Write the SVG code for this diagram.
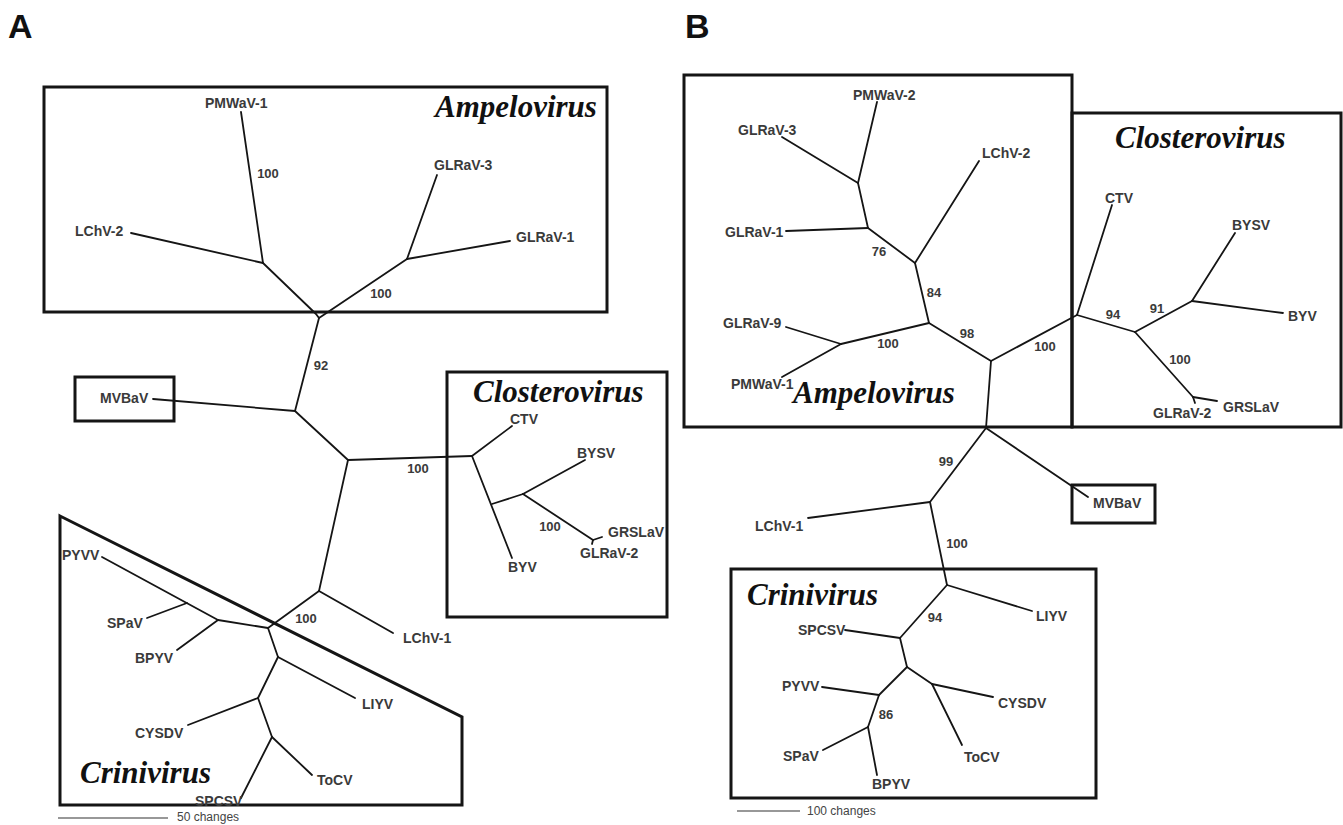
<svg xmlns="http://www.w3.org/2000/svg" width="1343" height="825" viewBox="0 0 1343 825">
<style>
.br{stroke:#151515;stroke-width:1.8;fill:none;stroke-linecap:round;stroke-linejoin:round}
.box{stroke:#151515;stroke-width:3;fill:none}
.lab{font-family:"Liberation Sans",Arial,sans-serif;font-size:14px;font-weight:bold;fill:#3a3a3a}
.bs{font-family:"Liberation Sans",Arial,sans-serif;font-size:13px;font-weight:bold;fill:#3a3a3a;text-anchor:middle}
.clade{font-family:"Liberation Serif","Times New Roman",serif;font-style:italic;font-weight:bold;font-size:31px;fill:#111}
.panel{font-family:"Liberation Sans",Arial,sans-serif;font-weight:bold;font-size:34px;fill:#111}
.scale{font-family:"Liberation Sans",Arial,sans-serif;font-size:12px;fill:#444}
.sbar{stroke:#333;stroke-width:1.2}
</style>
<rect width="1343" height="825" fill="#fff"/>
<text class="panel" x="8" y="38">A</text>
<text class="panel" x="685" y="38">B</text>

<!-- Panel A boxes -->
<g id="A-ampelovirus-box"><rect class="box" x="44" y="87" width="563" height="225"/><text class="clade" x="435" y="117">Ampelovirus</text></g>
<g id="A-closterovirus-box"><rect class="box" x="447" y="372" width="220" height="245"/><text class="clade" x="473" y="402">Closterovirus</text></g>
<g id="A-crinivirus-box"><polygon class="box" stroke-width="3.5" points="60,516 462,717 462,805 60,805"/><text class="clade" x="80" y="783">Crinivirus</text></g>
<g id="A-mvbav-box"><rect class="box" x="75" y="377" width="99" height="44"/></g>

<!-- Panel B boxes -->
<g id="B-ampelovirus-box"><path class="box" d="M1072,427 L684,427 L684,75 L1072,75 Z"/><text class="clade" x="793" y="403">Ampelovirus</text></g>
<g id="B-closterovirus-box"><path class="box" d="M1072,113 L1341,113 L1341,427 L1072,427 Z"/><text class="clade" x="1115" y="148">Closterovirus</text></g>
<g id="B-crinivirus-box"><rect class="box" x="731" y="569" width="365" height="229"/><text class="clade" x="747" y="605">Crinivirus</text></g>
<g id="B-mvbav-box"><rect class="box" x="1072" y="485" width="83" height="38"/></g>

<!-- Connectors -->
<g id="connectors" class="br">
<path d="M241,112 L263,263"/>
<path d="M131,233 L263,263"/>
<path d="M263,263 L316,314 L319,318 L325,314 L407,259"/>
<path d="M407,259 L437,175"/>
<path d="M407,259 L510,241"/>
<path d="M319,318 L295,411"/>
<path d="M295,411 L153,399"/>
<path d="M295,411 L348,460 L472,456"/>
<path d="M472,456 L512,426"/>
<path d="M472,456 L512,558"/>
<path d="M492,504 L523,494"/>
<path d="M523,494 L585,460"/>
<path d="M523,494 L593,540"/>
<path d="M593,540 L602,537"/>
<path d="M593,540 L592,544"/>
<path d="M348,460 L319,591"/>
<path d="M319,591 L393,633"/>
<path d="M319,591 L268,628"/>
<path d="M268,628 L218,620"/>
<path d="M218,620 L177,650"/>
<path d="M102,557 L218,620"/>
<path d="M187,603 L147,618"/>
<path d="M268,628 L278,657"/>
<path d="M278,657 L355,698"/>
<path d="M278,657 L258,698"/>
<path d="M258,698 L188,725"/>
<path d="M258,698 L272,737"/>
<path d="M272,737 L312,775"/>
<path d="M272,737 L241,798"/>

<path d="M877,102 L858,183"/>
<path d="M782,137 L858,183"/>
<path d="M858,183 L868,228"/>
<path d="M786,231 L868,228"/>
<path d="M868,228 L915,263"/>
<path d="M915,263 L979,161"/>
<path d="M915,263 L929,323"/>
<path d="M786,327 L841,344"/>
<path d="M782,377 L841,344"/>
<path d="M841,344 L929,323"/>
<path d="M929,323 L991,361"/>
<path d="M991,361 L1077,315"/>
<path d="M1077,315 L1112,205"/>
<path d="M1077,315 L1135,332"/>
<path d="M1135,332 L1192,301"/>
<path d="M1192,301 L1235,233"/>
<path d="M1192,301 L1283,313"/>
<path d="M1135,332 L1193,397"/>
<path d="M1193,397 L1195,403"/>
<path d="M1193,397 L1217,401"/>
<path d="M991,361 L986,428"/>
<path d="M986,428 L1088,497"/>
<path d="M986,428 L930,502"/>
<path d="M930,502 L808,518"/>
<path d="M930,502 L947,585"/>
<path d="M947,585 L1032,611"/>
<path d="M947,585 L900,638"/>
<path d="M900,638 L845,630"/>
<path d="M900,638 L907,667"/>
<path d="M907,667 L879,695"/>
<path d="M879,695 L822,687"/>
<path d="M879,695 L868,727"/>
<path d="M868,727 L823,750"/>
<path d="M868,727 L877,775"/>
<path d="M907,667 L932,684"/>
<path d="M932,684 L993,697"/>
<path d="M932,684 L962,745"/>
</g>

<!-- Bootstrap values -->
<g id="bootstrap">
<text class="bs" x="268" y="178">100</text>
<text class="bs" x="381" y="298">100</text>
<text class="bs" x="321" y="370">92</text>
<text class="bs" x="418" y="473">100</text>
<text class="bs" x="550" y="531">100</text>
<text class="bs" x="306" y="623">100</text>
<text class="bs" x="879" y="256">76</text>
<text class="bs" x="934" y="297">84</text>
<text class="bs" x="888" y="348">100</text>
<text class="bs" x="967" y="338">98</text>
<text class="bs" x="1045" y="351">100</text>
<text class="bs" x="1113" y="319">94</text>
<text class="bs" x="1157" y="313">91</text>
<text class="bs" x="1180" y="364">100</text>
<text class="bs" x="946" y="466">99</text>
<text class="bs" x="957" y="548">100</text>
<text class="bs" x="935" y="622">94</text>
<text class="bs" x="886" y="719">86</text>
</g>

<!-- Panel A taxa -->
<g id="A-PMWaV-1"><text class="lab" x="205" y="108">PMWaV-1</text></g>
<g id="A-LChV-2"><text class="lab" x="75" y="236">LChV-2</text></g>
<g id="A-GLRaV-3"><text class="lab" x="434" y="170">GLRaV-3</text></g>
<g id="A-GLRaV-1"><text class="lab" x="516" y="242">GLRaV-1</text></g>
<g id="A-MVBaV"><text class="lab" x="100" y="403">MVBaV</text></g>
<g id="A-CTV"><text class="lab" x="510" y="424">CTV</text></g>
<g id="A-BYSV"><text class="lab" x="577" y="458">BYSV</text></g>
<g id="A-GRSLaV"><text class="lab" x="608" y="537">GRSLaV</text></g>
<g id="A-GLRaV-2"><text class="lab" x="580" y="558">GLRaV-2</text></g>
<g id="A-BYV"><text class="lab" x="508" y="572">BYV</text></g>
<g id="A-PYVV"><text class="lab" x="62" y="560">PYVV</text></g>
<g id="A-SPaV"><text class="lab" x="107" y="628">SPaV</text></g>
<g id="A-BPYV"><text class="lab" x="135" y="663">BPYV</text></g>
<g id="A-LChV-1"><text class="lab" x="403" y="643">LChV-1</text></g>
<g id="A-LIYV"><text class="lab" x="362" y="709">LIYV</text></g>
<g id="A-CYSDV"><text class="lab" x="135" y="738">CYSDV</text></g>
<g id="A-ToCV"><text class="lab" x="317" y="785">ToCV</text></g>
<g id="A-SPCSV"><text class="lab" x="195" y="806">SPCSV</text></g>

<!-- Panel B taxa -->
<g id="B-PMWaV-2"><text class="lab" x="853" y="100">PMWaV-2</text></g>
<g id="B-GLRaV-3"><text class="lab" x="738" y="135">GLRaV-3</text></g>
<g id="B-GLRaV-1"><text class="lab" x="725" y="237">GLRaV-1</text></g>
<g id="B-LChV-2"><text class="lab" x="982" y="158">LChV-2</text></g>
<g id="B-GLRaV-9"><text class="lab" x="723" y="328">GLRaV-9</text></g>
<g id="B-PMWaV-1"><text class="lab" x="731" y="389">PMWaV-1</text></g>
<g id="B-CTV"><text class="lab" x="1105" y="203">CTV</text></g>
<g id="B-BYSV"><text class="lab" x="1232" y="230">BYSV</text></g>
<g id="B-BYV"><text class="lab" x="1288" y="321">BYV</text></g>
<g id="B-GLRaV-2"><text class="lab" x="1153" y="418">GLRaV-2</text></g>
<g id="B-GRSLaV"><text class="lab" x="1223" y="412">GRSLaV</text></g>
<g id="B-MVBaV"><text class="lab" x="1093" y="508">MVBaV</text></g>
<g id="B-LChV-1"><text class="lab" x="755" y="531">LChV-1</text></g>
<g id="B-LIYV"><text class="lab" x="1036" y="621">LIYV</text></g>
<g id="B-SPCSV"><text class="lab" x="798" y="635">SPCSV</text></g>
<g id="B-PYVV"><text class="lab" x="782" y="691">PYVV</text></g>
<g id="B-CYSDV"><text class="lab" x="998" y="708">CYSDV</text></g>
<g id="B-SPaV"><text class="lab" x="783" y="761">SPaV</text></g>
<g id="B-ToCV"><text class="lab" x="964" y="762">ToCV</text></g>
<g id="B-BPYV"><text class="lab" x="872" y="789">BPYV</text></g>

<!-- Scale bars -->
<g id="A-scale"><line class="sbar" x1="58" y1="818" x2="168" y2="818"/><text class="scale" x="177" y="821">50 changes</text></g>
<g id="B-scale"><line class="sbar" x1="737" y1="811" x2="800" y2="811"/><text class="scale" x="807" y="815">100 changes</text></g>
</svg>
